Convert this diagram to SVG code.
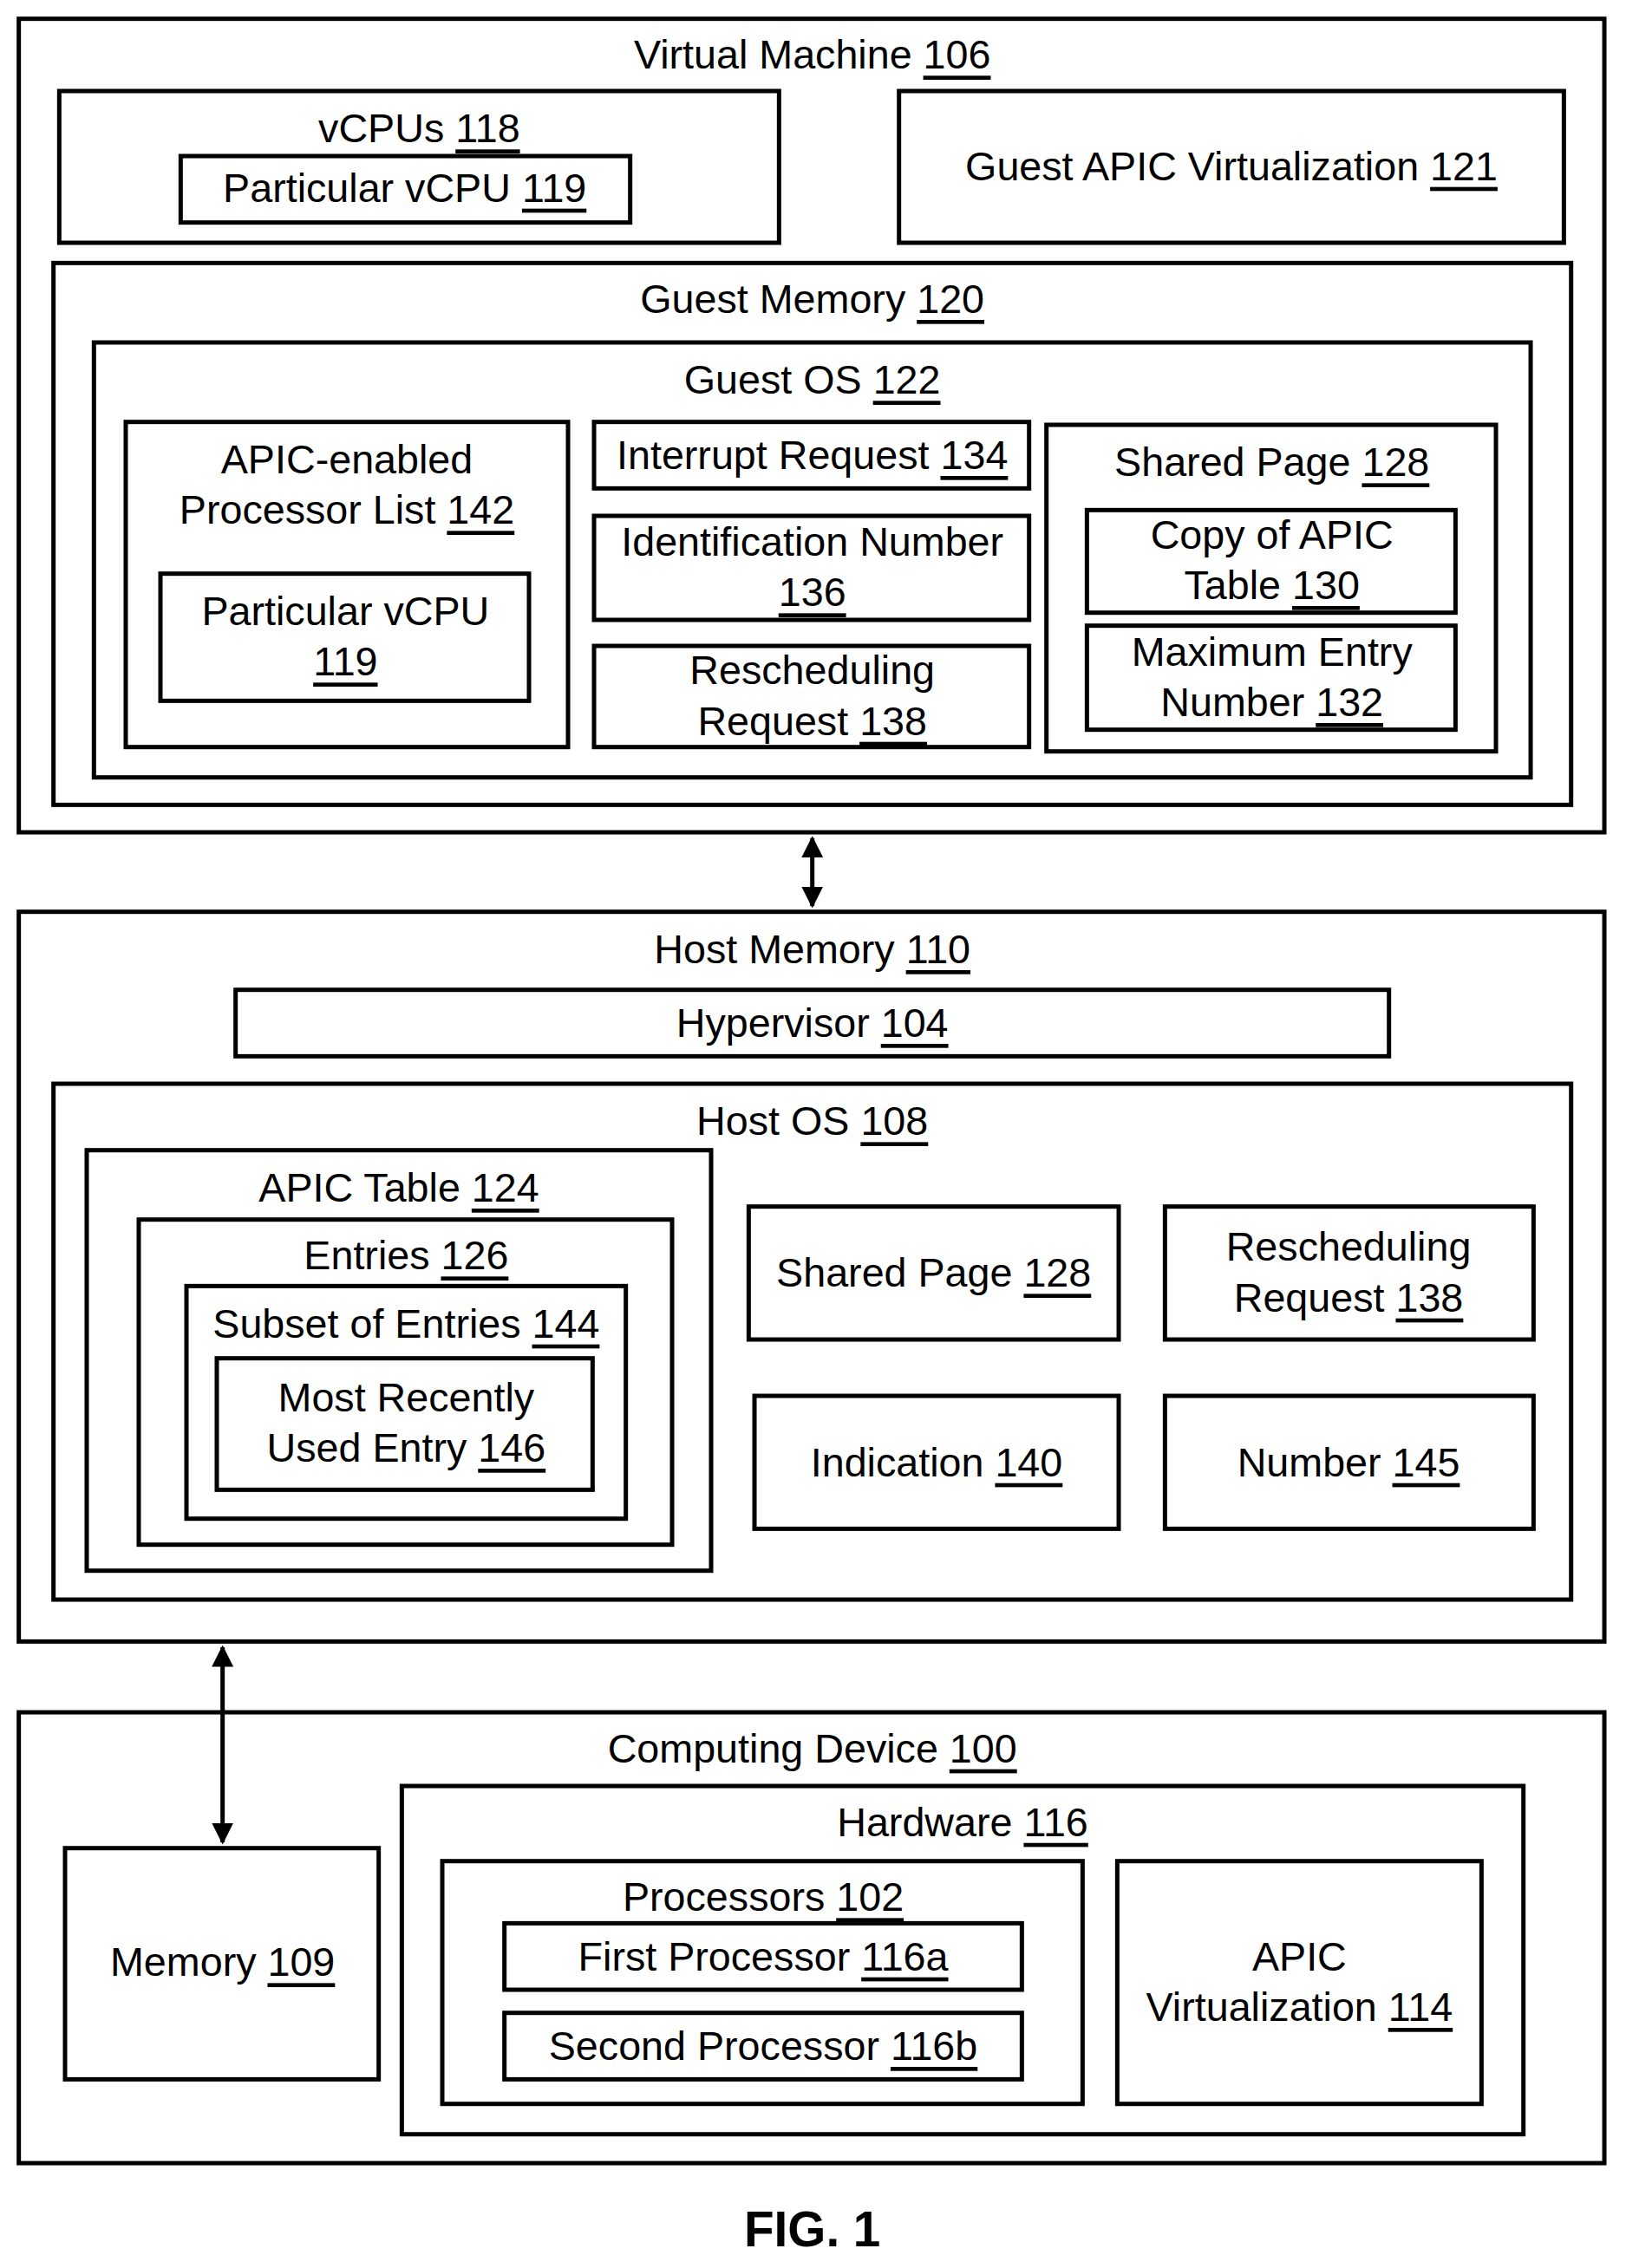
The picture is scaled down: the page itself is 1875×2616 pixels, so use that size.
<svg xmlns="http://www.w3.org/2000/svg" width="1875" height="2616" viewBox="0 0 1875 2616">
<style>
rect{fill:#fff;stroke:#000;stroke-width:3}
text{font-family:"Liberation Sans",Arial,sans-serif;font-size:28px;text-anchor:middle;dominant-baseline:central;fill:#000}
.u{text-decoration:underline}
.c{stroke:#000;stroke-width:3;fill:none}
</style>
<defs>
<marker id="ah" viewBox="0 0 10 10" refX="9" refY="5" markerWidth="5" markerHeight="5" orient="auto-start-reverse" markerUnits="strokeWidth"><path d="M0,0L10,5L0,10z" fill="#000"/></marker>
</defs>
<rect x="0" y="0" width="1875" height="2616" style="stroke:none"/>
<g transform="scale(1.6667)">
<g id="vm"><rect x="13" y="13" width="1097" height="563"/><text x="562" y="38">Virtual Machine <tspan class="u">106</tspan></text></g>
<g id="vcpus"><rect x="41" y="63" width="498" height="105"/><text x="290" y="89">vCPUs <tspan class="u">118</tspan></text></g>
<g id="pvcpu1"><rect x="125" y="108" width="311" height="46"/><text x="280" y="130">Particular vCPU <tspan class="u">119</tspan></text></g>
<g id="gapic"><rect x="622" y="63" width="460" height="105"/><text x="852" y="115">Guest APIC Virtualization <tspan class="u">121</tspan></text></g>
<g id="gmem"><rect x="37" y="182" width="1050" height="375"/><text x="562" y="207">Guest Memory <tspan class="u">120</tspan></text></g>
<g id="gos"><rect x="65" y="237" width="994" height="301"/><text x="562" y="263">Guest OS <tspan class="u">122</tspan></text></g>
<g id="apl"><rect x="87" y="292" width="306" height="225"/><text x="240" y="318">APIC-enabled</text><text x="240" y="353">Processor List <tspan class="u">142</tspan></text></g>
<g id="pvcpu2"><rect x="111" y="397" width="255" height="88"/><text x="239" y="423">Particular vCPU</text><text x="239" y="458"><tspan class="u">119</tspan></text></g>
<g id="ireq"><rect x="411" y="292" width="301" height="46"/><text x="562" y="315">Interrupt Request <tspan class="u">134</tspan></text></g>
<g id="idn"><rect x="411" y="357" width="301" height="72"/><text x="562" y="375">Identification Number</text><text x="562" y="410"><tspan class="u">136</tspan></text></g>
<g id="rr1"><rect x="411" y="447" width="301" height="70"/><text x="562" y="464">Rescheduling</text><text x="562" y="499">Request <tspan class="u">138</tspan></text></g>
<g id="sp1"><rect x="724" y="294" width="311" height="226"/><text x="880" y="320">Shared Page <tspan class="u">128</tspan></text></g>
<g id="copy"><rect x="752" y="353" width="255" height="71"/><text x="880" y="370">Copy of APIC</text><text x="880" y="405">Table <tspan class="u">130</tspan></text></g>
<g id="maxe"><rect x="752" y="433" width="255" height="72"/><text x="880" y="451">Maximum Entry</text><text x="880" y="486">Number <tspan class="u">132</tspan></text></g>
<g id="hmem"><rect x="13" y="631" width="1097" height="505"/><text x="562" y="657">Host Memory <tspan class="u">110</tspan></text></g>
<g id="hyp"><rect x="163" y="685" width="798" height="46"/><text x="562" y="708">Hypervisor <tspan class="u">104</tspan></text></g>
<g id="hos"><rect x="37" y="750" width="1050" height="357"/><text x="562" y="776">Host OS <tspan class="u">108</tspan></text></g>
<g id="apict"><rect x="60" y="796" width="432" height="291"/><text x="276" y="822">APIC Table <tspan class="u">124</tspan></text></g>
<g id="ent"><rect x="96" y="844" width="369" height="225"/><text x="281" y="869">Entries <tspan class="u">126</tspan></text></g>
<g id="sub"><rect x="129" y="890" width="304" height="161"/><text x="281" y="916">Subset of Entries <tspan class="u">144</tspan></text></g>
<g id="mru"><rect x="150" y="940" width="260" height="91"/><text x="281" y="967">Most Recently</text><text x="281" y="1002">Used Entry <tspan class="u">146</tspan></text></g>
<g id="sp2"><rect x="518" y="835" width="256" height="92"/><text x="646" y="881">Shared Page <tspan class="u">128</tspan></text></g>
<g id="rr2"><rect x="806" y="835" width="255" height="92"/><text x="933" y="863">Rescheduling</text><text x="933" y="898">Request <tspan class="u">138</tspan></text></g>
<g id="ind"><rect x="522" y="966" width="252" height="92"/><text x="648" y="1012">Indication <tspan class="u">140</tspan></text></g>
<g id="num"><rect x="806" y="966" width="255" height="92"/><text x="933" y="1012">Number <tspan class="u">145</tspan></text></g>
<g id="cd"><rect x="13" y="1185" width="1097" height="312"/><text x="562" y="1210">Computing Device <tspan class="u">100</tspan></text></g>
<g id="mem"><rect x="45" y="1279" width="217" height="160"/><text x="154" y="1358">Memory <tspan class="u">109</tspan></text></g>
<g id="hw"><rect x="278" y="1236" width="776" height="241"/><text x="666" y="1261">Hardware <tspan class="u">116</tspan></text></g>
<g id="proc"><rect x="306" y="1288" width="443" height="168"/><text x="528" y="1313">Processors <tspan class="u">102</tspan></text></g>
<g id="p1"><rect x="349" y="1331" width="358" height="46"/><text x="528" y="1354">First Processor <tspan class="u">116a</tspan></text></g>
<g id="p2"><rect x="349" y="1393" width="358" height="46"/><text x="528" y="1416">Second Processor <tspan class="u">116b</tspan></text></g>
<g id="apicv"><rect x="773" y="1288" width="252" height="168"/><text x="899" y="1354">APIC</text><text x="899" y="1389">Virtualization <tspan class="u">114</tspan></text></g>
<g id="connectors">
<line class="c" x1="562" y1="580" x2="562" y2="627" marker-start="url(#ah)" marker-end="url(#ah)"/>
<line class="c" x1="154" y1="1140" x2="154" y2="1275" marker-start="url(#ah)" marker-end="url(#ah)"/>
</g>
<text x="562" y="1543" style="font-weight:bold;font-size:34px">FIG. 1</text>
</g>
</svg>
